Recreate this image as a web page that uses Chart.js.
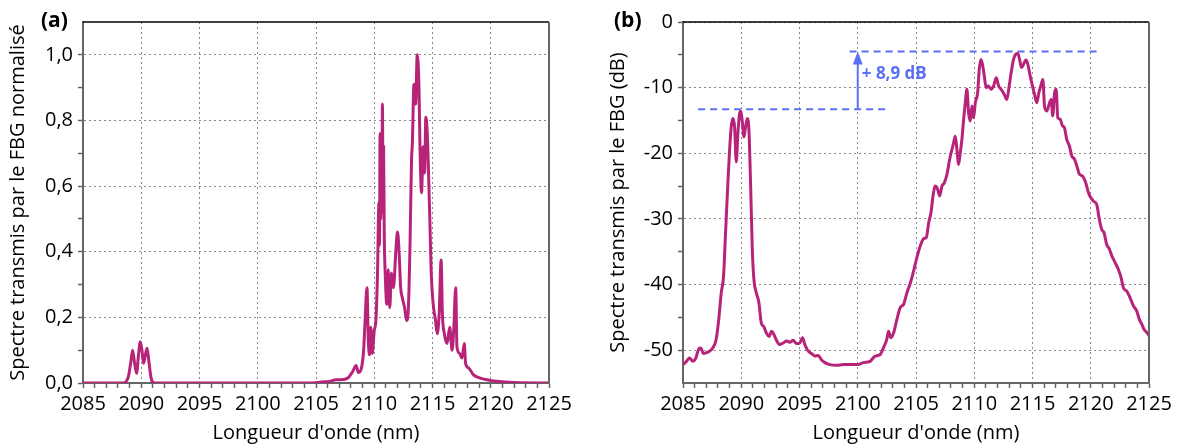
<!DOCTYPE html>
<html>
<head>
<meta charset="utf-8">
<script src="https://cdn.jsdelivr.net/npm/chart.js@4.4.1/dist/chart.umd.min.js"></script>
<style>
  html, body { margin: 0; padding: 0; background: #fff; }
  body { width: 1177px; height: 445px; position: relative; overflow: hidden; }
  .panel { position: absolute; top: 0; height: 445px; }
  #pa { left: 0; width: 580px; }
  #pb { left: 600px; width: 577px; }
</style>
</head>
<body>
<div class="panel" id="pa"><canvas id="chartA"></canvas></div>
<div class="panel" id="pb"><canvas id="chartB"></canvas></div>
<script>
// (a) spectre normalisé
const wlA = [
  2085, 2088.5, 2088.9, 2089.09, 2089.26, 2089.43, 2089.6, 2089.75, 2089.92, 2090.06,
  2090.2, 2090.35, 2090.5, 2090.64, 2090.78, 2090.92, 2091.2, 2104.5, 2105.5, 2106.2,
  2106.7, 2107.16, 2107.73, 2108.15, 2108.44, 2108.64, 2108.86, 2109.09, 2109.2, 2109.375,
  2109.49, 2109.6, 2109.7, 2109.83, 2110.0, 2110.14, 2110.28, 2110.4, 2110.45, 2110.5,
  2110.56, 2110.62, 2110.66, 2110.7, 2110.76, 2110.8, 2110.86, 2110.94, 2111.08, 2111.2,
  2111.33, 2111.48, 2111.65, 2111.85, 2112.0, 2112.13, 2112.27, 2112.41, 2112.6, 2112.78,
  2112.93, 2113.07, 2113.2, 2113.27, 2113.41, 2113.55, 2113.69, 2113.84, 2113.92, 2114.06,
  2114.2, 2114.32, 2114.43, 2114.55, 2114.66, 2114.77, 2114.89, 2115.06, 2115.26, 2115.4,
  2115.57, 2115.74, 2115.85, 2116.02, 2116.25, 2116.48, 2116.68, 2116.82, 2116.99, 2117.1,
  2117.33, 2117.53, 2117.73, 2117.84, 2118.1, 2118.52, 2119.1, 2119.94, 2120.5, 2121.5,
  2122.5, 2125
];
const specA = [
  0, 0, 0.02, 0.06, 0.10, 0.06, 0.03, 0.08, 0.126, 0.10,
  0.06, 0.085, 0.106, 0.07, 0.03, 0.006, 0, 0, 0.003, 0.005,
  0.01, 0.01, 0.015, 0.035, 0.053, 0.032, 0.04, 0.10, 0.18, 0.29,
  0.13, 0.086, 0.17, 0.09, 0.16, 0.19, 0.335, 0.55, 0.42, 0.76,
  0.50, 0.70, 0.52, 0.85, 0.55, 0.72, 0.45, 0.335, 0.24, 0.345,
  0.23, 0.335, 0.29, 0.40, 0.46, 0.40, 0.29, 0.26, 0.23, 0.19,
  0.23, 0.42, 0.68, 0.73, 0.91, 0.85, 1.0, 0.90, 0.73, 0.58,
  0.72, 0.64, 0.81, 0.76, 0.64, 0.50, 0.335, 0.24, 0.19, 0.15,
  0.21, 0.375, 0.21, 0.15, 0.12, 0.17, 0.10, 0.16, 0.29, 0.11,
  0.09, 0.076, 0.12, 0.06, 0.046, 0.025, 0.015, 0.008, 0.005, 0.002,
  0.0005, 0
];

// (b) spectre en dB
const wlB = [
  2085.0, 2085.3, 2085.55, 2085.85, 2086.1, 2086.4, 2086.55, 2086.75, 2086.98, 2087.27,
  2087.56, 2087.84, 2088.07, 2088.28, 2088.48, 2088.65, 2088.85, 2089.0, 2089.14, 2089.28,
  2089.43, 2089.57, 2089.71, 2089.86, 2089.97, 2090.09, 2090.23, 2090.37, 2090.52, 2090.66,
  2090.8, 2090.95, 2091.09, 2091.3, 2091.52, 2091.72, 2091.93, 2092.16, 2092.39, 2092.6,
  2092.8, 2093.0, 2093.3, 2093.6, 2093.9, 2094.2, 2094.45, 2094.74, 2095.03, 2095.26,
  2095.46, 2095.75, 2096.03, 2096.32, 2096.6, 2096.9, 2097.18, 2097.6, 2098.2, 2098.76,
  2099.34, 2099.9, 2100.5, 2101.05, 2101.5, 2101.9, 2102.2, 2102.5, 2102.64, 2102.84,
  2103.07, 2103.36, 2103.65, 2103.94, 2104.23, 2104.51, 2104.8, 2105.09, 2105.37, 2105.66,
  2105.89, 2106.09, 2106.29, 2106.46, 2106.66, 2106.86, 2107.03, 2107.23, 2107.43, 2107.66,
  2107.89, 2108.09, 2108.23, 2108.37, 2108.51, 2108.66, 2108.8, 2108.94, 2109.09, 2109.23,
  2109.37, 2109.51, 2109.66, 2109.8, 2109.94, 2110.09, 2110.29, 2110.43, 2110.57, 2110.71,
  2110.86, 2111.03, 2111.23, 2111.43, 2111.66, 2111.89, 2112.09, 2112.31, 2112.57, 2112.8,
  2113.0, 2113.17, 2113.37, 2113.57, 2113.74, 2113.89, 2114.06, 2114.23, 2114.43, 2114.6,
  2114.8, 2115.0, 2115.17, 2115.37, 2115.54, 2115.71, 2115.89, 2116.03, 2116.23, 2116.43,
  2116.6, 2116.74, 2116.89, 2117.03, 2117.17, 2117.37, 2117.57, 2117.74, 2117.94, 2118.17,
  2118.37, 2118.6, 2118.8, 2119.03, 2119.31, 2119.57, 2119.8, 2120.0, 2120.23, 2120.51,
  2120.74, 2120.94, 2121.14, 2121.37, 2121.6, 2121.8, 2122.09, 2122.37, 2122.6, 2122.8,
  2123.09, 2123.37, 2123.66, 2123.94, 2124.17, 2124.37, 2124.57, 2124.8, 2125.0
];
const specB = [
  -52.2, -51.7, -51.2, -51.7, -51.2, -49.65, -49.7, -50.5, -50.4, -50.15,
  -49.65, -48.4, -45.3, -41.3, -38.75, -32.2, -24.6, -19.5, -16.0, -14.7,
  -16.0, -21.3, -17.0, -13.9, -13.6, -15.2, -17.5, -16.0, -14.7, -16.5,
  -24.6, -34.7, -39.3, -41.3, -42.8, -45.85, -46.4, -47.4, -47.9, -47.1,
  -47.6, -48.4, -49.15, -48.9, -48.6, -48.8, -48.5, -49.0, -48.9, -48.1,
  -49.15, -50.15, -50.5, -50.9, -50.8, -51.5, -51.9, -52.2, -52.3, -52.2,
  -52.2, -52.2, -51.9, -51.7, -50.9, -50.7, -49.65, -48.3, -47.1, -48.1,
  -47.4, -45.3, -43.5, -43.0, -41.2, -39.8, -37.9, -35.8, -34.1, -33.0,
  -32.8, -30.6, -29.0, -26.5, -25.0, -25.5, -26.5, -25.0, -24.5, -23.2,
  -20.9, -19.4, -18.4, -17.4, -19.4, -21.7, -19.9, -17.9, -14.8, -12.3,
  -10.25, -13.8, -15.1, -12.8, -14.6, -12.3, -10.8, -7.2, -5.7, -6.45,
  -8.2, -10.0, -9.75, -10.25, -9.75, -8.5, -9.75, -10.25, -11.0, -11.8,
  -9.75, -7.7, -5.7, -4.9, -4.8, -5.7, -6.95, -6.45, -5.8, -6.45,
  -8.2, -9.75, -11.0, -12.3, -10.8, -9.75, -8.75, -12.8, -13.55, -12.5,
  -11.8, -14.3, -10.8, -10.25, -14.6, -14.8, -15.8, -16.1, -17.9, -18.9,
  -20.4, -20.9, -21.9, -23.2, -23.5, -24.5, -26.0, -26.75, -27.3, -27.8,
  -30.1, -31.6, -32.1, -33.9, -34.6, -35.6, -36.65, -37.7, -38.9, -40.5,
  -41.0, -42.0, -43.25, -44.0, -45.3, -46.0, -46.8, -47.3, -47.8
];

// annotation du gain (b)
const gainLow = -13.3;
const gainHigh = -4.5;
const gainX = 2100;
const lowLine = [2086.3, 2102.5];
const highLine = [2099.3, 2120.9];
const gainLabel = '+ 8,9 dB';

const lineColor = '#b8237a';
const blue = '#5b70f5';
const axisGray = '#666666';

Chart.defaults.font.family = "'Open Sans', sans-serif";
Chart.defaults.font.size = 20;
Chart.defaults.color = '#000';

const toXY = (xs, ys) => xs.map((x, i) => ({ x: x, y: ys[i] }));

// cadre haut/droite + lettre du panneau
const framePlugin = {
  id: 'frame',
  afterDatasetsDraw(chart, args, opts) {
    const { ctx, chartArea: a } = chart;
    ctx.save();
    ctx.lineWidth = 1.5;
    ctx.strokeStyle = '#000';
    ctx.beginPath(); ctx.moveTo(a.left, a.top); ctx.lineTo(a.right, a.top); ctx.stroke();
    ctx.strokeStyle = axisGray;
    ctx.lineWidth = 2;
    ctx.beginPath(); ctx.moveTo(a.right, a.top); ctx.lineTo(a.right, a.bottom); ctx.stroke();
    ctx.font = "bold 21px 'Open Sans'";
    ctx.fillStyle = '#000';
    ctx.textBaseline = 'middle';
    ctx.fillText(opts.label, opts.lx, 21);
    ctx.restore();
  }
};

// flèche + texte du gain
const gainPlugin = {
  id: 'gain',
  afterDatasetsDraw(chart) {
    const { ctx, scales } = chart;
    const px = scales.x.getPixelForValue(gainX);
    const top = scales.y.getPixelForValue(gainHigh);
    ctx.save();
    ctx.fillStyle = blue;
    ctx.beginPath();
    ctx.moveTo(px, top);
    ctx.lineTo(px - 5, top + 13);
    ctx.lineTo(px + 5, top + 13);
    ctx.closePath();
    ctx.fill();
    ctx.font = "bold 17px 'Open Sans'";
    ctx.textBaseline = 'middle';
    ctx.fillText(gainLabel, px + 4, scales.y.getPixelForValue((gainLow + gainHigh) / 2 + 0.9));
    ctx.restore();
  }
};

function xScale() {
  return {
    type: 'linear', min: 2085, max: 2125,
    afterFit: s => { s.height = 62; },
    ticks: {
      stepSize: 1, autoSkip: false, maxRotation: 0, padding: 4,
      callback: v => (v % 5 === 0 ? String(v) : '')
    },
    grid: {
      color: c => (c.tick && c.tick.value % 5 === 0 ? '#8a8a8a' : 'rgba(0,0,0,0)'),
      lineWidth: 1, tickLength: 5, tickColor: axisGray, tickWidth: 1.5
    },
    border: { display: true, color: axisGray, width: 2, dash: [2, 3] },
    title: { display: true, text: "Longueur d'onde (nm)", padding: { top: 0, bottom: 0 }, font: { size: 20 } }
  };
}

function lineSet(xs, ys) {
  return {
    data: toXY(xs, ys), borderColor: lineColor, borderWidth: 3,
    pointRadius: 0, cubicInterpolationMode: 'monotone', fill: false
  };
}

new Chart(document.getElementById('chartA'), {
  type: 'line',
  data: { datasets: [lineSet(wlA, specA)] },
  options: {
    responsive: true, maintainAspectRatio: false, animation: false,
    layout: { padding: { top: 22, right: 31, bottom: 0, left: 0 } },
    plugins: { legend: { display: false }, tooltip: { enabled: false }, frame: { label: '(a)', lx: 41 } },
    scales: {
      x: xScale(),
      y: {
        min: 0, max: 1.1,
        afterFit: s => { s.width = 83; },
        ticks: {
          stepSize: 0.1, autoSkip: false, padding: 5,
          callback: v => (Math.round(v * 10) % 2 === 0 ? v.toFixed(1).replace('.', ',') : '')
        },
        grid: {
          color: c => (c.tick && Math.round(c.tick.value * 10) % 2 === 0 ? '#8a8a8a' : 'rgba(0,0,0,0)'),
          tickColor: c => (c.tick && c.tick.value > 1.05 ? 'rgba(0,0,0,0)' : axisGray),
          lineWidth: 1, tickLength: 5, tickWidth: 1.5
        },
        border: { display: true, color: axisGray, width: 2, dash: [2, 3] },
        title: { display: true, text: 'Spectre transmis par le FBG normalisé', padding: { top: 6, bottom: 0 }, font: { size: 20 } }
      }
    }
  },
  plugins: [framePlugin]
});

const dashed = (x0, x1, y) => ({
  data: [{ x: x0, y: y }, { x: x1, y: y }], borderColor: blue, borderWidth: 2,
  borderDash: [7, 5], pointRadius: 0, fill: false
});

new Chart(document.getElementById('chartB'), {
  type: 'line',
  data: {
    datasets: [
      lineSet(wlB, specB),
      dashed(lowLine[0], lowLine[1], gainLow),
      dashed(highLine[0], highLine[1], gainHigh),
      { data: [{ x: gainX, y: gainLow }, { x: gainX, y: gainHigh - 0.5 * (gainHigh - gainLow) / 4 }],
        borderColor: blue, borderWidth: 2, pointRadius: 0, fill: false }
    ]
  },
  options: {
    responsive: true, maintainAspectRatio: false, animation: false,
    layout: { padding: { top: 22, right: 28, bottom: 0, left: 0 } },
    plugins: { legend: { display: false }, tooltip: { enabled: false }, frame: { label: '(b)', lx: 14 } },
    scales: {
      x: xScale(),
      y: {
        min: -55, max: 0,
        afterFit: s => { s.width = 83; },
        ticks: {
          stepSize: 5, autoSkip: false, padding: 5,
          callback: v => (v % 10 === 0 ? String(v) : '')
        },
        grid: {
          color: c => (c.tick && c.tick.value % 10 === 0 ? '#8a8a8a' : 'rgba(0,0,0,0)'),
          tickColor: c => (c.tick && c.tick.value < -52 ? 'rgba(0,0,0,0)' : axisGray),
          lineWidth: 1, tickLength: 5, tickWidth: 1.5
        },
        border: { display: true, color: axisGray, width: 2, dash: [2, 3] },
        title: { display: true, text: 'Spectre transmis par le FBG (dB)', padding: { top: 6, bottom: 0 }, font: { size: 20 } }
      }
    }
  },
  plugins: [framePlugin, gainPlugin]
});
</script>
</body>
</html>
